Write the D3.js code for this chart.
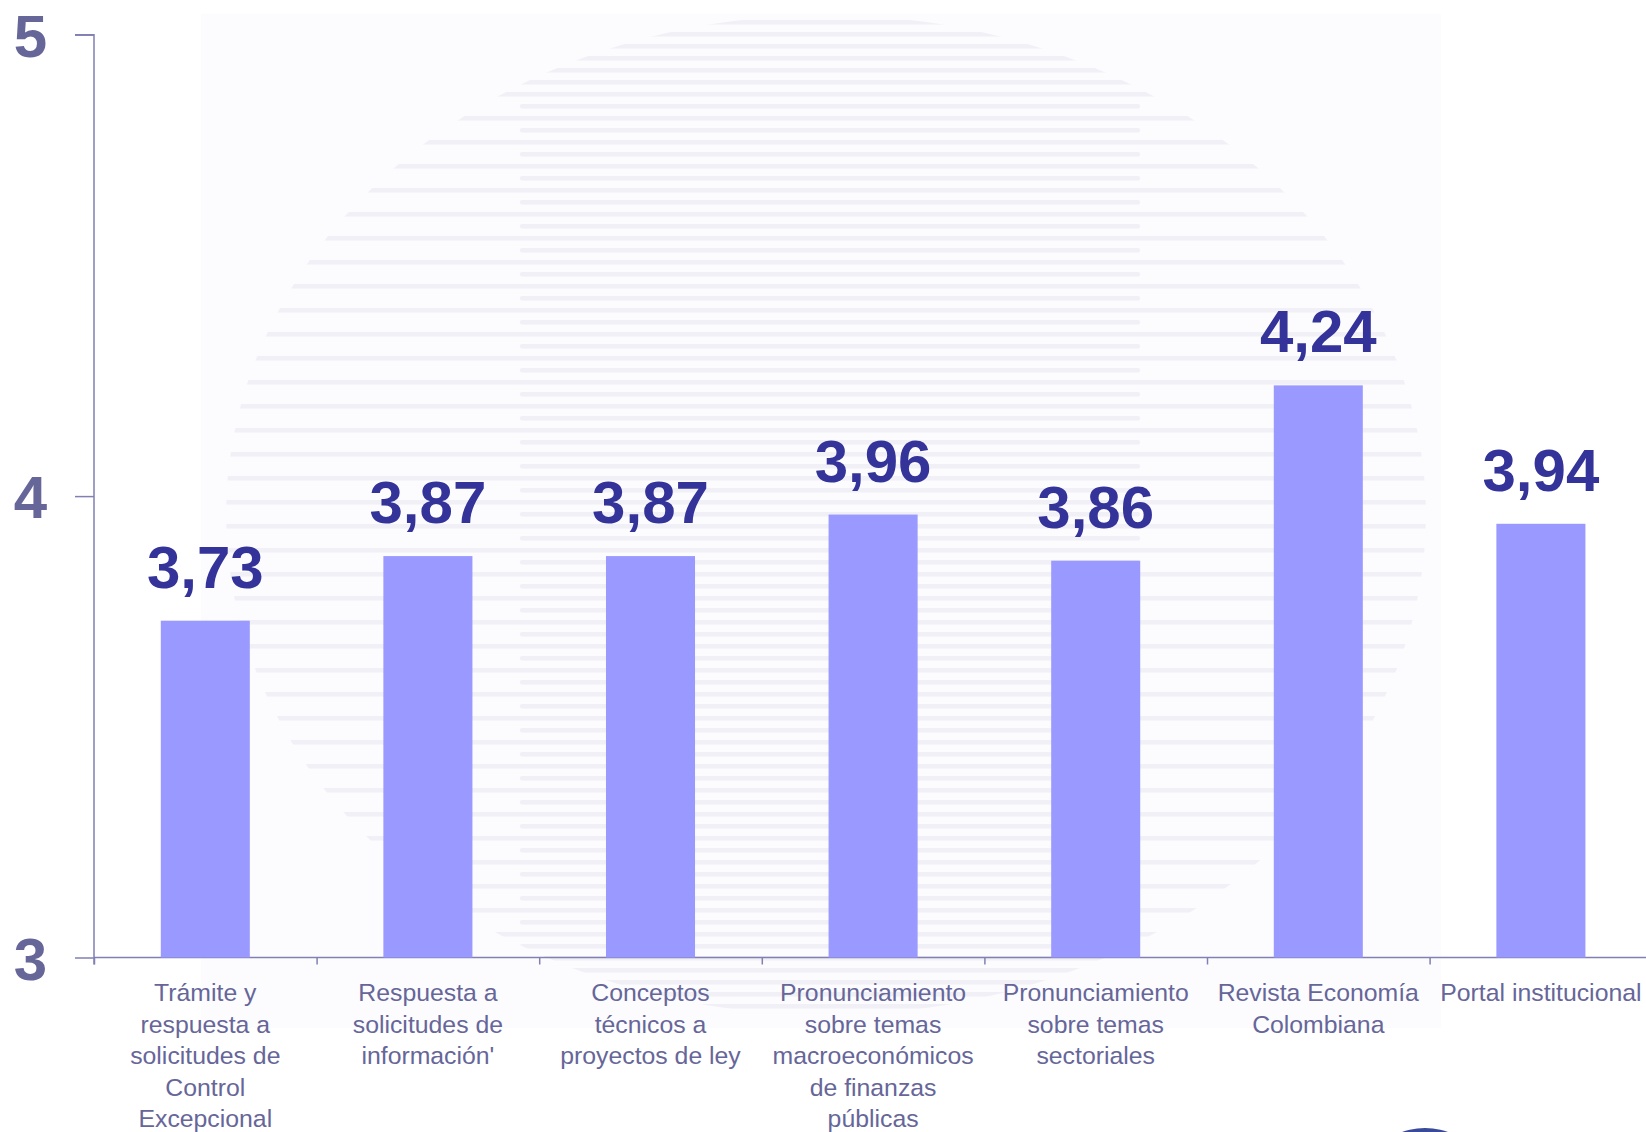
<!DOCTYPE html>
<html>
<head>
<meta charset="utf-8">
<script src="https://cdn.jsdelivr.net/npm/d3@7"></script>
<style>
  html, body { margin: 0; padding: 0; background: #ffffff; overflow: hidden; }
  svg { display: block; }
  text { font-family: "Liberation Sans", Arial, Helvetica, sans-serif; }
</style>
</head>
<body>
<svg id="chart" width="1646" height="1132"></svg>
<script>
// ---- data ----
const categories = [
  "Trámite y respuesta a solicitudes de Control Excepcional",
  "Respuesta a solicitudes de información'",
  "Conceptos técnicos a proyectos de ley",
  "Pronunciamiento sobre temas macroeconómicos de finanzas públicas",
  "Pronunciamiento sobre temas sectoriales",
  "Revista Economía Colombiana",
  "Portal institucional"
];
const categoryLines = [
  ["Trámite y", "respuesta a", "solicitudes de", "Control", "Excepcional"],
  ["Respuesta a", "solicitudes de", "información'"],
  ["Conceptos", "técnicos a", "proyectos de ley"],
  ["Pronunciamiento", "sobre temas", "macroeconómicos", "de finanzas", "públicas"],
  ["Pronunciamiento", "sobre temas", "sectoriales"],
  ["Revista Economía", "Colombiana"],
  ["Portal institucional"]
];
const values = [3.73, 3.87, 3.87, 3.96, 3.86, 4.24, 3.94];
const yTicks = [3, 4, 5];

// ---- layout ----
const W = 1646, H = 1132;
const plotLeft = 94, plotTop = 34.7, plotBottom = 957.5;
const step = 222.6;
const plotRight = plotLeft + step * categories.length;

const svg = d3.select("#chart");

const x = d3.scaleBand().domain(categories).range([plotLeft, plotRight])
  .paddingInner(0.6).paddingOuter(0.3);
const y = d3.scaleLinear().domain([3, 5]).range([plotBottom, plotTop]);

// ---- background watermark ----
svg.append("rect").attr("x", 201).attr("y", 14).attr("width", 1240).attr("height", 1014)
  .attr("fill", "#fcfcfe");

const defs = svg.append("defs");
defs.append("clipPath").attr("id", "globe")
  .append("ellipse").attr("cx", 826).attr("cy", 515).attr("rx", 600).attr("ry", 500);

const stripes = svg.append("g").attr("clip-path", "url(#globe)");
const rows = d3.range(20, 1015, 12);
stripes.selectAll("rect").data(rows).join("rect")
  .attr("x", (d, i) => i % 2 ? 520 : 200)
  .attr("width", (d, i) => i % 2 ? 620 : 1300)
  .attr("y", d => d)
  .attr("height", 4.5)
  .attr("rx", 2)
  .attr("fill", "#f0f0f6");

// small logo sliver at the bottom edge
svg.append("ellipse").attr("cx", 1425).attr("cy", 1150).attr("rx", 40).attr("ry", 22)
  .attr("fill", "#3a4a9a");

// ---- axes ----
const axisColor = "#8080b4";

// y axis
const yAxis = d3.axisLeft(y).tickValues(yTicks).tickSize(19).tickPadding(28)
  .tickFormat(d3.format("d"));
const gy = svg.append("g").attr("transform", `translate(${plotLeft},0)`).call(yAxis);
gy.select(".domain").attr("stroke", axisColor).attr("stroke-width", 1.5)
  .attr("d", `M-19,${plotTop}H0V${plotBottom + 7}`);
gy.selectAll(".tick line").attr("stroke", axisColor).attr("stroke-width", 1.5);
gy.selectAll(".tick text")
  .attr("fill", "#666699")
  .style("font-size", "60px")
  .style("font-weight", "bold")
  .style("font-family", "'Liberation Sans', Arial, sans-serif")
  .attr("x", -47)
  .attr("dy", "0.36em");

// x axis baseline with boundary ticks
const xb = d3.scaleLinear().domain([0, categories.length]).range([plotLeft, plotRight]);
const xAxis = d3.axisBottom(xb).tickValues(d3.range(0, categories.length)).tickSize(7)
  .tickFormat("");
const gx = svg.append("g").attr("transform", `translate(0,${plotBottom})`).call(xAxis);
gx.select(".domain").attr("stroke", axisColor).attr("stroke-width", 1.5)
  .attr("d", `M${plotLeft},0H${W}`);
gx.selectAll(".tick line").attr("stroke", axisColor).attr("stroke-width", 1.5);

// ---- bars ----
svg.append("g").selectAll("rect").data(values).join("rect")
  .attr("x", (d, i) => x(categories[i]))
  .attr("width", x.bandwidth())
  .attr("y", d => y(d))
  .attr("height", d => y(3) - y(d))
  .attr("fill", "#9999ff");

// ---- value labels ----
const fmt = v => d3.format(".2f")(v).replace(".", ",");
svg.append("g").selectAll("text").data(values).join("text")
  .attr("x", (d, i) => x(categories[i]) + x.bandwidth() / 2)
  .attr("y", d => y(d) - 33)
  .attr("text-anchor", "middle")
  .attr("fill", "#333399")
  .style("font-size", "60px")
  .style("font-weight", "bold")
  .text(fmt);

// ---- category labels ----
const lab = svg.append("g");
categoryLines.forEach((lines, i) => {
  const cx = x(categories[i]) + x.bandwidth() / 2;
  const t = lab.append("text")
    .attr("x", cx)
    .attr("y", 1001)
    .attr("text-anchor", "middle")
    .attr("fill", "#666699")
    .style("font-size", "24.8px");
  lines.forEach((ln, j) => {
    t.append("tspan")
      .attr("x", cx)
      .attr("y", 1001 + j * 31.5)
      .text(ln);
  });
});
</script>
</body>
</html>
